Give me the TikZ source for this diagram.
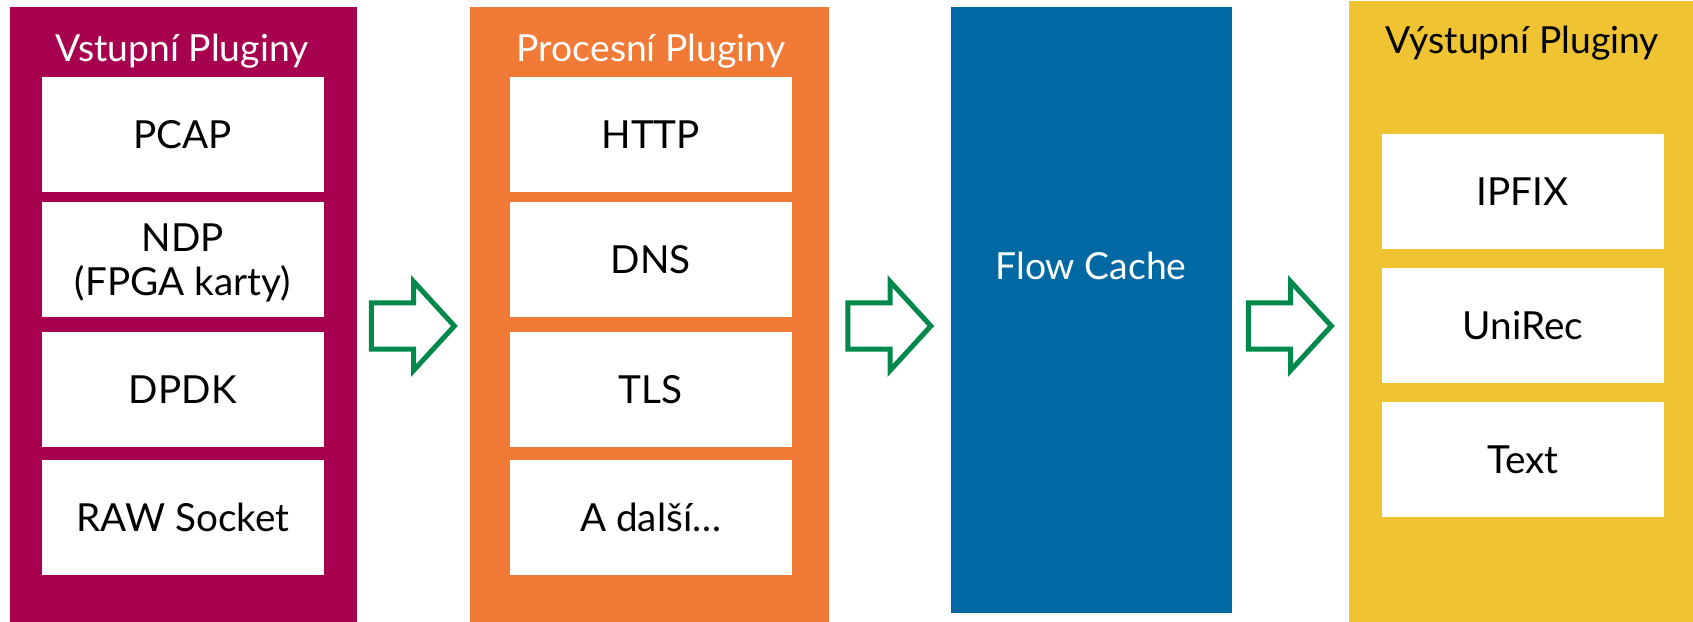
\documentclass[tikz,border=0pt]{standalone}
\usepackage{fontspec}
\setmainfont{Lato}
\usetikzlibrary{shapes.arrows}

\definecolor{vinpurple}{HTML}{A6004F}
\definecolor{procorange}{HTML}{F07A36}
\definecolor{cacheblue}{HTML}{0068A3}
\definecolor{outyellow}{HTML}{F0C333}
\definecolor{flowgreen}{HTML}{00894A}

\begin{document}
\begin{tikzpicture}[x=0.01cm, y=-0.01cm,
    panel/.style={rectangle, inner sep=0pt, anchor=north west},
    plugbox/.style={rectangle, fill=white, inner sep=0pt, anchor=north west,
        minimum width=2.82cm, minimum height=1.15cm, align=center,
        text height=0.285cm, text depth=0cm, font=\fontsize{11}{12.5}\selectfont},
    paneltitle/.style={anchor=base, text=white, font=\fontsize{10.6}{12}\selectfont},
    blockarrow/.style={single arrow, draw=flowgreen, line width=0.05cm, inner sep=0pt,
        text height=0.41cm, text depth=0cm, minimum height=0.83cm, minimum width=0.84cm,
        single arrow head extend=0.215cm, single arrow tip angle=95, xshift=-0.11cm}]

\useasboundingbox (0,0) rectangle (1693,622);

% coloured columns
\node [panel, fill=vinpurple, minimum width=3.47cm, minimum height=6.16cm] (vin) at (9,6) {};
\node [panel, fill=procorange, minimum width=3.59cm, minimum height=6.16cm] (proc) at (469,6) {};
\node [panel, fill=cacheblue, minimum width=2.81cm, minimum height=6.06cm] (cache) at (950,6) {};
\node [panel, fill=outyellow, minimum width=3.45cm, minimum height=6.22cm] (out) at (1348,0) {};

% column titles
\node [paneltitle] (vintitle) at (182,61.5) {Vstupní Pluginy};
\node [paneltitle] (proctitle) at (651,61.5) {Procesní Pluginy};
\node [paneltitle] (cachetitle) at (1091,279.6) {Flow Cache};
\node [paneltitle, text=black] (outtitle) at (1522,53.5) {Výstupní Pluginy};

% input plugins
\node [plugbox] (pcap) at (41,76) {PCAP};
\node [plugbox, text height=0.725cm] (ndp) at (41,201) {NDP\\(FPGA karty)};
\node [plugbox] (dpdk) at (41,331) {DPDK};
\node [plugbox] (raw) at (41,459) {RAW Socket};

% process plugins
\node [plugbox] (http) at (509,76) {HTTP};
\node [plugbox] (dns) at (509,201) {DNS};
\node [plugbox] (tls) at (509,331) {TLS};
\node [plugbox] (more) at (509,459) {A další…};

% output plugins
\node [plugbox] (ipfix) at (1381,133) {IPFIX};
\node [plugbox] (unirec) at (1381,267) {UniRec};
\node [plugbox] (text) at (1381,401) {Text};

% block arrows between the columns
\path (vin.east |- 0,326) -- (proc.west |- 0,326) node [midway, blockarrow] (vinarrow) {};
\path (proc.east |- 0,326) -- (cache.west |- 0,326) node [midway, blockarrow] (procarrow) {};
\path (cache.east |- 0,326) -- (out.west |- 0,326) node [midway, blockarrow] (cachearrow) {};

\end{tikzpicture}
\end{document}
